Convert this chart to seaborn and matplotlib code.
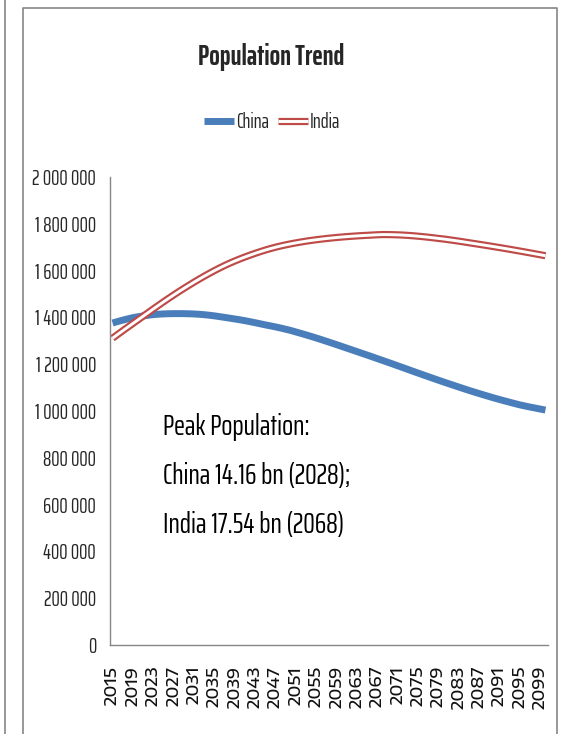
import numpy as np
import pandas as pd
import matplotlib
matplotlib.use("Agg")
import matplotlib.pyplot as plt
import matplotlib.patheffects as pe
from matplotlib.lines import Line2D
from matplotlib.ticker import FuncFormatter, FixedLocator
import seaborn as sns

# Projected population, thousands (medium variant)
years = list(range(2015, 2101))
china = [
    1376000, 1382300, 1388200, 1393800, 1399000, 1402800, 1406300, 1409300, 1411800, 1413700,
    1414900, 1415700, 1416100, 1416200, 1416000, 1415500, 1414600, 1413300, 1411600, 1409300,
    1406500, 1403400, 1400100, 1396700, 1393300, 1389800, 1385900, 1381700, 1377300, 1372700,
    1368000, 1363800, 1359300, 1354500, 1349400, 1344000, 1337800, 1331600, 1325200, 1318700,
    1312000, 1305000, 1297900, 1290700, 1283400, 1276000, 1268600, 1261200, 1253800, 1246400,
    1239000, 1231400, 1223800, 1216200, 1208600, 1201000, 1193200, 1185400, 1177600, 1169800,
    1162000, 1154300, 1146700, 1139100, 1131500, 1124000, 1116700, 1109500, 1102300, 1095100,
    1088000, 1081200, 1074500, 1067900, 1061400, 1055000, 1049000, 1043100, 1037300, 1031600,
    1026000, 1021300, 1016800, 1012500, 1008200, 1004000,
]
india = [
    1311000, 1327000, 1342800, 1358500, 1374000, 1389500, 1405000, 1420500, 1436000, 1451300,
    1466400, 1481200, 1495700, 1509900, 1523800, 1537300, 1550600, 1563500, 1576000, 1588100,
    1599800, 1611000, 1621600, 1631600, 1641000, 1649800, 1658200, 1666200, 1673800, 1681000,
    1687800, 1694100, 1699900, 1705200, 1710000, 1714400, 1718500, 1722300, 1725800, 1729000,
    1731900, 1734600, 1737100, 1739400, 1741500, 1743400, 1745200, 1746800, 1748300, 1749600,
    1750800, 1752000, 1753100, 1754000, 1753900, 1753500, 1752800, 1751800, 1750500, 1748900,
    1747000, 1744900, 1742600, 1740100, 1737400, 1735000, 1732000, 1729000, 1725800, 1722500,
    1719000, 1715700, 1712300, 1708900, 1705400, 1701900, 1698300, 1694700, 1691000, 1687200,
    1683400, 1679500, 1675600, 1671600, 1667600, 1663500,
]
series_names = ["China", "India"]
tick_years = years[::4]
y_ticks = list(range(0, 2000001, 200000))
title = "Population Trend"
note = "Peak Population:\nChina 14.16 bn (2028);\nIndia 17.54 bn (2068)"

df = pd.DataFrame({"year": years, "China": china, "India": india})

BLUE = "#4A7EBB"
RED = "#BE4B48"
GRAY = "#868686"
NARROW = ["Saira ExtraCondensed", "DejaVu Sans"]
WIDE = ["Encode Sans Expanded", "DejaVu Sans"]

sns.set_theme(style="white")
plt.rcParams["font.family"] = NARROW

W, H = 568, 734
fig = plt.figure(figsize=(W / 100, H / 100), dpi=100)
fig.patch.set_facecolor("white")

# outer frame lines
fig.add_artist(Line2D([5 / W, 5 / W], [0, 1], transform=fig.transFigure, color=GRAY, lw=1.2))
fig.add_artist(Line2D([23 / W, 23 / W, 557 / W, 557 / W], [0, 1 - 8 / H, 1 - 8 / H, 0],
                      transform=fig.transFigure, color=GRAY, lw=1.2))

ax = fig.add_axes([110 / W, 1 - 645 / H, 438 / W, 468 / H])
ax.set_facecolor("white")

sns.lineplot(data=df, x="year", y="China", ax=ax, color=BLUE, linewidth=5.0,
             label="China", solid_capstyle="butt")
sns.lineplot(data=df, x="year", y="India", ax=ax, color="white", linewidth=2.1,
             label="India", solid_capstyle="butt",
             path_effects=[pe.Stroke(linewidth=5.2, foreground=RED), pe.Normal()])

ax.set_xlim(years[0] - 0.5, years[-1] + 0.5)
ax.set_ylim(0, 2000000)
ax.set_xlabel("")
ax.set_ylabel("")

ax.xaxis.set_minor_locator(FixedLocator(np.arange(years[0] - 0.5, years[-1] + 1, 1)))
ax.tick_params(axis="x", which="major", length=0, pad=15)
ax.tick_params(axis="x", which="minor", length=5, width=0.8, color=GRAY, direction="out")
ax.set_xticks(tick_years)
ax.set_xticklabels([str(y) for y in tick_years], rotation=90, fontsize=12,
                   fontfamily=WIDE, fontweight=500, color="#111111")

ax.set_yticks(y_ticks)
ax.yaxis.set_major_formatter(FuncFormatter(lambda v, p: f"{int(v):,}".replace(",", " ")))
ax.tick_params(axis="y", length=5, width=0.8, color=GRAY, direction="out", pad=5,
               labelsize=15)

for side in ["top", "right"]:
    ax.spines[side].set_visible(False)
for side in ["left", "bottom"]:
    ax.spines[side].set_color(GRAY)
    ax.spines[side].set_linewidth(1.0)

handles = ax.get_lines()[:2]
if ax.get_legend() is not None:
    ax.get_legend().remove()
fig.legend(handles, series_names, loc="center", bbox_to_anchor=(272 / W, 1 - 122 / H),
           ncol=2, frameon=False, handlelength=1.45, handletextpad=0.1,
           columnspacing=0.45, prop={"family": NARROW, "size": 14.8})

fig.text(271 / W, 1 - 57 / H, title, ha="center", va="center", fontsize=20,
         fontweight="bold", family=NARROW)

ax.text((163 - 110) / 438, (645 - 413) / 468, note, transform=ax.transAxes, ha="left",
        va="top", fontsize=21, linespacing=1.95, family=NARROW, color="black")

fig.savefig("out.png", dpi=100)
